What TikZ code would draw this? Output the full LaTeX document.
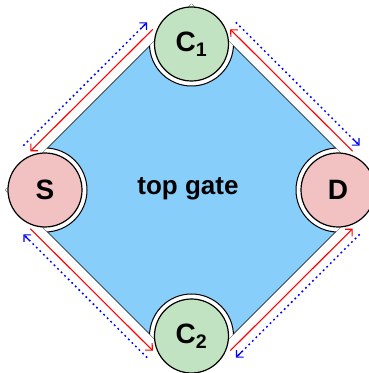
\documentclass[tikz,border=0pt]{standalone}
\usepackage{fontspec}
\setmainfont{Liberation Sans}
\usetikzlibrary{arrows.meta}
\definecolor{gatesky}{HTML}{87CEFA}
\definecolor{contactrose}{HTML}{F2C2C2}
\definecolor{probemint}{HTML}{C2E3C2}

\begin{document}
\begin{tikzpicture}[x=1pt, y=1pt, >={Straight Barb[length=5pt,width=10pt]},
  contact/.style={circle, draw, line width=1.2pt, minimum size=74pt, inner sep=0pt,
    font=\fontsize{28}{30}\selectfont\bfseries},
  redflow/.style={->, draw=red, line width=1.1pt, shorten >=17pt, shorten <=17pt},
  blueflow/.style={draw=blue, line width=1.5pt, dash pattern=on 1.8pt off 3.2pt,
    shorten >=16pt, shorten <=16pt,
    postaction={draw=blue, solid, ->, line width=1.2pt, shorten <=183pt}}]
  \useasboundingbox (0,0) rectangle (368,373);
  % ---- corner positions ----
  \coordinate (pC1) at (191.5,329);
  \coordinate (pS)  at (45,183);
  \coordinate (pD)  at (338,183);
  \coordinate (pC2) at (191.5,37);
  % ---- top gate (diamond) ----
  \def\gatepath{(191.5,369) -- (377.5,183) -- (191.5,-3) -- (5.5,183) -- cycle}
  \fill[gatesky] \gatepath;
  \draw[line width=0.7pt, line join=round] \gatepath;
  % ---- gaps round the contacts ----
  \begin{scope}
    \clip \gatepath;
    \foreach \c in {pC1,pS,pD,pC2}
      \draw[fill=white, line width=1pt] (\c) circle (42);
  \end{scope}
  % ---- contacts ----
  \node[contact, fill=probemint]   (C1) at (pC1) {C\textsubscript{1}};
  \node[contact, fill=contactrose] (S)  at (pS)  {S};
  \node[contact, fill=contactrose] (D)  at (pD)  {D};
  \node[contact, fill=probemint]   (C2) at (pC2) {C\textsubscript{2}};
  \node[font=\fontsize{26}{28}\selectfont\bfseries] (gate) at (188,184.5) {top gate};
  % ---- edge currents ----
  \draw[redflow, transform canvas={shift={(-26.7,26.7)}}] (C1.center) -- (S.center);
  \draw[redflow, transform canvas={shift={(-26.7,-26.7)}}] (S.center) -- (C2.center);
  \draw[redflow, transform canvas={shift={(26.7,-26.7)}}] (C2.center) -- (D.center);
  \draw[redflow, transform canvas={shift={(26.7,26.7)}}] (D.center) -- (C1.center);
  \draw[blueflow, transform canvas={shift={(-33,33)}}] (S.center) -- (C1.center);
  \draw[blueflow, transform canvas={shift={(33,33)}}] (C1.center) -- (D.center);
  \draw[blueflow, transform canvas={shift={(33,-33)}}] (D.center) -- (C2.center);
  \draw[blueflow, transform canvas={shift={(-33,-33)}}] (C2.center) -- (S.center);
\end{tikzpicture}
\end{document}
